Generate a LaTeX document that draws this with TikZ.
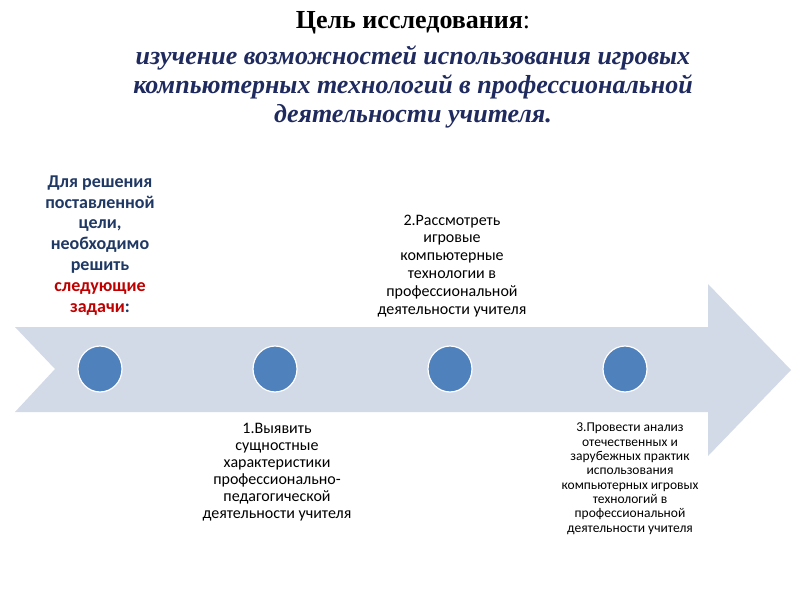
\documentclass[tikz,border=0pt]{standalone}
\usepackage{fontspec}
\setmainfont{Liberation Serif}
\newfontfamily\calib{Carlito}
\definecolor{navy}{HTML}{1F2A5E}
\definecolor{leftnavy}{HTML}{1F3864}
\definecolor{redtxt}{HTML}{C00000}
\definecolor{arrowfill}{HTML}{D2D9E7}
\definecolor{dotblue}{HTML}{4F81BD}
\usetikzlibrary{shapes.geometric}
\tikzset{
  dot/.style={ellipse, minimum width=44pt, minimum height=46pt, fill=dotblue, draw=white, line width=1.2pt, inner sep=0pt},
  tasktxt/.style={align=center, inner sep=0pt, text=black},
}
\begin{document}
\begin{tikzpicture}[x=1pt,y=-1pt]
\useasboundingbox (0,0) rectangle (800,600);
\fill[white] (0,0) rectangle (800,600);
% big arrow
\fill[arrowfill] (15,327) -- (708,327) -- (708,284) -- (791,370) -- (708,456) -- (708,412) -- (15,412) -- (55,369) -- cycle;
% circles
\node[dot] (c1) at (100,369) {};
\node[dot] (c2) at (275,369) {};
\node[dot] (c3) at (450,369) {};
\node[dot] (c4) at (625,369) {};
% title
\node[inner sep=0pt, anchor=base, font=\fontsize{26}{29}\selectfont\bfseries] (title) at (413,28) {Цель исследования\textmd{:}};
\node[inner sep=0pt, align=center, text=navy, anchor=base, font=\fontsize{26}{29}\selectfont\bfseries\itshape] (goal) at (413,122) {изучение возможностей использования игровых\\ компьютерных технологий в профессиональной\\ деятельности учителя.};
% left text
\node[inner sep=0pt, align=center, anchor=base, font=\calib\bfseries\fontsize{18}{20.8}\selectfont] (left) at (100,312) {\textcolor{leftnavy}{Для решения}\\ \textcolor{leftnavy}{поставленной}\\ \textcolor{leftnavy}{цели,}\\ \textcolor{leftnavy}{необходимо}\\ \textcolor{leftnavy}{решить}\\ \textcolor{redtxt}{следующие}\\ \textcolor{redtxt}{задачи}\textcolor{leftnavy}{:}};
% task 2
\node[tasktxt, anchor=base, font=\calib\fontsize{16}{17.8}\selectfont] (t2) at (452,314) {2.Рассмотреть\\ игровые\\ компьютерные\\ технологии в\\ профессиональной\\ деятельности учителя};
% task 1
\node[tasktxt, anchor=base, font=\calib\fontsize{16}{17}\selectfont] (t1) at (277,518) {1.Выявить\\ сущностные\\ характеристики\\ профессионально-\\ педагогической\\ деятельности учителя};
% task 3
\node[tasktxt, anchor=base, font=\calib\fontsize{13.5}{14.3}\selectfont] (t3) at (630,532) {3.Провести анализ\\ отечественных и\\ зарубежных практик\\ использования\\ компьютерных игровых\\ технологий в\\ профессиональной\\ деятельности учителя};
\end{tikzpicture}
\end{document}
